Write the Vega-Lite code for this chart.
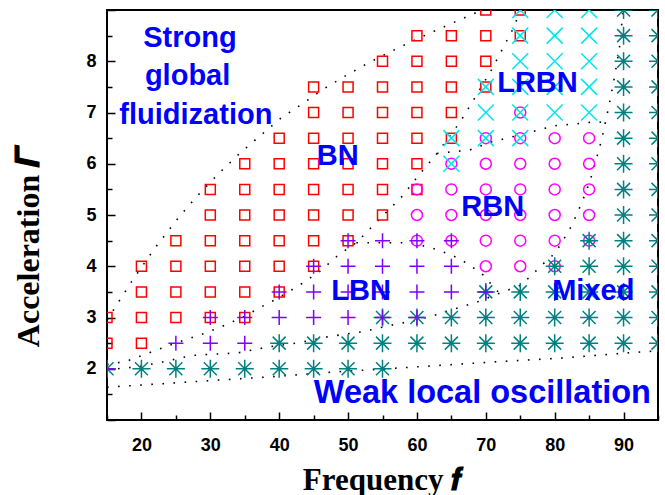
{
  "$schema": "https://vega.github.io/schema/vega-lite/v6.json",
  "width": 551,
  "height": 410,
  "autosize": {"type": "none"},
  "padding": {"left": 107, "top": 10, "right": 7, "bottom": 75},
  "background": "white",
  "config": {"view": {"stroke": "black", "strokeWidth": 2}},
  "datasets": {
    "pts": [
        {"f":15,"G":3,"t":"S"},{"f":15,"G":2.5,"t":"S"},
        {"f":20,"G":4,"t":"S"},{"f":20,"G":3.5,"t":"S"},{"f":20,"G":3,"t":"S"},{"f":20,"G":2.5,"t":"S"},
        {"f":25,"G":4.5,"t":"S"},{"f":25,"G":4,"t":"S"},{"f":25,"G":3.5,"t":"S"},{"f":25,"G":3,"t":"S"},
        {"f":30,"G":5.5,"t":"S"},{"f":30,"G":5,"t":"S"},{"f":30,"G":4.5,"t":"S"},{"f":30,"G":4,"t":"S"},{"f":30,"G":3.5,"t":"S"},{"f":30,"G":3,"t":"S"},
        {"f":35,"G":6,"t":"S"},{"f":35,"G":5.5,"t":"S"},{"f":35,"G":5,"t":"S"},{"f":35,"G":4.5,"t":"S"},{"f":35,"G":4,"t":"S"},{"f":35,"G":3.5,"t":"S"},{"f":35,"G":3,"t":"S"},
        {"f":40,"G":6.5,"t":"S"},{"f":40,"G":6,"t":"S"},{"f":40,"G":5.5,"t":"S"},{"f":40,"G":5,"t":"S"},{"f":40,"G":4.5,"t":"S"},{"f":40,"G":4,"t":"S"},{"f":40,"G":3.5,"t":"S"},
        {"f":45,"G":7.5,"t":"S"},{"f":45,"G":7,"t":"S"},{"f":45,"G":6.5,"t":"S"},{"f":45,"G":6,"t":"S"},{"f":45,"G":5.5,"t":"S"},{"f":45,"G":5,"t":"S"},{"f":45,"G":4.5,"t":"S"},{"f":45,"G":4,"t":"S"},
        {"f":50,"G":7.5,"t":"S"},{"f":50,"G":7,"t":"S"},{"f":50,"G":6.5,"t":"S"},{"f":50,"G":6,"t":"S"},{"f":50,"G":5.5,"t":"S"},{"f":50,"G":5,"t":"S"},{"f":50,"G":4.5,"t":"S"},
        {"f":55,"G":8,"t":"S"},{"f":55,"G":7.5,"t":"S"},{"f":55,"G":7,"t":"S"},{"f":55,"G":6.5,"t":"S"},{"f":55,"G":6,"t":"S"},{"f":55,"G":5.5,"t":"S"},{"f":55,"G":5,"t":"S"},
        {"f":60,"G":8.5,"t":"S"},{"f":60,"G":8,"t":"S"},{"f":60,"G":7.5,"t":"S"},{"f":60,"G":7,"t":"S"},{"f":60,"G":6.5,"t":"S"},{"f":60,"G":6,"t":"S"},{"f":60,"G":5.5,"t":"S"},
        {"f":65,"G":8.5,"t":"S"},{"f":65,"G":8,"t":"S"},{"f":65,"G":7.5,"t":"S"},{"f":65,"G":7,"t":"S"},{"f":65,"G":6.5,"t":"S"},
        {"f":70,"G":9,"t":"S"},{"f":70,"G":8.5,"t":"S"},{"f":70,"G":8,"t":"S"},{"f":70,"G":7.5,"t":"S"},
        {"f":75,"G":9,"t":"S"},{"f":75,"G":8.5,"t":"S"},
        {"f":60,"G":5.5,"t":"C"},{"f":60,"G":5,"t":"C"},{"f":60,"G":4.5,"t":"C"},
        {"f":65,"G":6,"t":"C"},{"f":65,"G":5.5,"t":"C"},{"f":65,"G":5,"t":"C"},{"f":65,"G":4.5,"t":"C"},
        {"f":70,"G":6.5,"t":"C"},{"f":70,"G":6,"t":"C"},{"f":70,"G":5.5,"t":"C"},{"f":70,"G":5,"t":"C"},{"f":70,"G":4.5,"t":"C"},{"f":70,"G":4,"t":"C"},
        {"f":75,"G":7,"t":"C"},{"f":75,"G":6.5,"t":"C"},{"f":75,"G":6,"t":"C"},{"f":75,"G":5.5,"t":"C"},{"f":75,"G":5,"t":"C"},{"f":75,"G":4.5,"t":"C"},{"f":75,"G":4,"t":"C"},
        {"f":80,"G":6.5,"t":"C"},{"f":80,"G":6,"t":"C"},{"f":80,"G":5.5,"t":"C"},{"f":80,"G":5,"t":"C"},{"f":80,"G":4.5,"t":"C"},{"f":80,"G":4,"t":"C"},
        {"f":85,"G":6.5,"t":"C"},{"f":85,"G":6,"t":"C"},{"f":85,"G":5.5,"t":"C"},{"f":85,"G":5,"t":"C"},{"f":85,"G":4.5,"t":"C"},
        {"f":15,"G":2,"t":"A"},{"f":20,"G":2,"t":"A"},{"f":25,"G":2,"t":"A"},{"f":30,"G":2,"t":"A"},{"f":35,"G":2,"t":"A"},
        {"f":40,"G":2.5,"t":"A"},{"f":40,"G":2,"t":"A"},{"f":45,"G":2.5,"t":"A"},{"f":45,"G":2,"t":"A"},{"f":50,"G":2.5,"t":"A"},{"f":50,"G":2,"t":"A"},
        {"f":55,"G":3,"t":"A"},{"f":55,"G":2.5,"t":"A"},{"f":55,"G":2,"t":"A"},
        {"f":60,"G":3,"t":"A"},{"f":60,"G":2.5,"t":"A"},{"f":65,"G":3,"t":"A"},{"f":65,"G":2.5,"t":"A"},
        {"f":70,"G":3.5,"t":"A"},{"f":70,"G":3,"t":"A"},{"f":70,"G":2.5,"t":"A"},
        {"f":75,"G":3.5,"t":"A"},{"f":75,"G":3,"t":"A"},{"f":75,"G":2.5,"t":"A"},
        {"f":80,"G":4,"t":"A"},{"f":80,"G":3.5,"t":"A"},{"f":80,"G":3,"t":"A"},{"f":80,"G":2.5,"t":"A"},
        {"f":85,"G":4.5,"t":"A"},{"f":85,"G":4,"t":"A"},{"f":85,"G":3.5,"t":"A"},{"f":85,"G":3,"t":"A"},{"f":85,"G":2.5,"t":"A"},
        {"f":90,"G":9,"t":"A"},{"f":90,"G":8.5,"t":"A"},{"f":90,"G":8,"t":"A"},{"f":90,"G":7.5,"t":"A"},{"f":90,"G":7,"t":"A"},{"f":90,"G":6.5,"t":"A"},{"f":90,"G":6,"t":"A"},{"f":90,"G":5.5,"t":"A"},{"f":90,"G":5,"t":"A"},{"f":90,"G":4.5,"t":"A"},{"f":90,"G":4,"t":"A"},{"f":90,"G":3.5,"t":"A"},{"f":90,"G":3,"t":"A"},{"f":90,"G":2.5,"t":"A"},
        {"f":95,"G":9,"t":"A"},{"f":95,"G":8.5,"t":"A"},{"f":95,"G":8,"t":"A"},{"f":95,"G":7.5,"t":"A"},{"f":95,"G":7,"t":"A"},{"f":95,"G":6.5,"t":"A"},{"f":95,"G":6,"t":"A"},{"f":95,"G":5.5,"t":"A"},{"f":95,"G":5,"t":"A"},{"f":95,"G":4.5,"t":"A"},{"f":95,"G":4,"t":"A"},{"f":95,"G":3.5,"t":"A"},{"f":95,"G":3,"t":"A"},{"f":95,"G":2.5,"t":"A"},
        {"f":65,"G":6.5,"t":"X"},{"f":65,"G":6,"t":"X"},
        {"f":70,"G":7.5,"t":"X"},{"f":70,"G":7,"t":"X"},{"f":70,"G":6.5,"t":"X"},
        {"f":75,"G":9,"t":"X"},{"f":75,"G":8.5,"t":"X"},{"f":75,"G":8,"t":"X"},{"f":75,"G":7.5,"t":"X"},{"f":75,"G":7,"t":"X"},{"f":75,"G":6.5,"t":"X"},
        {"f":80,"G":9,"t":"X"},{"f":80,"G":8.5,"t":"X"},{"f":80,"G":8,"t":"X"},{"f":80,"G":7.5,"t":"X"},{"f":80,"G":7,"t":"X"},
        {"f":85,"G":9,"t":"X"},{"f":85,"G":8.5,"t":"X"},{"f":85,"G":8,"t":"X"},{"f":85,"G":7.5,"t":"X"},{"f":85,"G":7,"t":"X"},
        {"f":15,"G":2,"t":"P"},{"f":25,"G":2.5,"t":"P"},
        {"f":30,"G":3,"t":"P"},{"f":30,"G":2.5,"t":"P"},{"f":35,"G":3,"t":"P"},{"f":35,"G":2.5,"t":"P"},
        {"f":40,"G":3.5,"t":"P"},{"f":40,"G":3,"t":"P"},
        {"f":45,"G":4,"t":"P"},{"f":45,"G":3.5,"t":"P"},{"f":45,"G":3,"t":"P"},
        {"f":50,"G":4.5,"t":"P"},{"f":50,"G":4,"t":"P"},{"f":50,"G":3.5,"t":"P"},{"f":50,"G":3,"t":"P"},
        {"f":55,"G":4.5,"t":"P"},{"f":55,"G":4,"t":"P"},{"f":55,"G":3.5,"t":"P"},{"f":55,"G":3,"t":"P"},
        {"f":60,"G":4.5,"t":"P"},{"f":60,"G":4,"t":"P"},{"f":60,"G":3.5,"t":"P"},{"f":60,"G":3,"t":"P"},
        {"f":65,"G":4.5,"t":"P"},{"f":65,"G":4,"t":"P"},{"f":65,"G":3.5,"t":"P"},
        {"f":70,"G":3.5,"t":"P"}
    ]
  },
  "encoding": {
    "x": {
      "field": "f", "type": "quantitative",
      "scale": {"domain": [15, 95], "nice": false, "zero": false},
      "axis": {
        "title": "Frequency 𝒇",
        "values": [15, 20, 25, 30, 35, 40, 45, 50, 55, 60, 65, 70, 75, 80, 85, 90, 95],
        "format": "d",
        "labelExpr": "datum.value % 10 === 0 ? datum.label : ''",
        "grid": false, "domain": false,
        "tickColor": "black", "tickWidth": 1.5,
        "tickSize": {"condition": {"test": "datum.value % 10 === 0", "value": -8}, "value": -5},
        "labelPadding": 24, "labelFlush": false, "labelOverlap": false, "labelBound": false,
        "labelFont": "Liberation Sans", "labelFontWeight": "bold", "labelFontSize": 18, "labelColor": "black",
        "titleFont": "Liberation Serif", "titleFontWeight": "bold", "titleFontSize": 31, "titleColor": "black",
        "titleX": 275, "titleY": 69, "titleBaseline": "alphabetic", "titleAlign": "center", "titleAnchor": null
      }
    },
    "y": {
      "field": "G", "type": "quantitative",
      "scale": {"domain": [1, 9], "nice": false, "zero": false},
      "axis": {
        "title": "Acceleration 𝜞",
        "values": [1, 1.5, 2, 2.5, 3, 3.5, 4, 4.5, 5, 5.5, 6, 6.5, 7, 7.5, 8, 8.5, 9],
        "format": ".0f",
        "labelExpr": "datum.value >= 2 && datum.value <= 8 && datum.value % 1 === 0 ? datum.label : ''",
        "grid": false, "domain": false,
        "tickColor": "black", "tickWidth": 1.5,
        "tickSize": {"condition": {"test": "datum.value % 1 === 0", "value": -8}, "value": -5},
        "labelPadding": 19, "labelFlush": false, "labelOverlap": false, "labelBound": false,
        "labelFont": "Liberation Sans", "labelFontWeight": "bold", "labelFontSize": 18, "labelColor": "black",
        "titleFont": "Liberation Serif", "titleFontWeight": "bold", "titleFontSize": 32, "titleColor": "black",
        "titleAngle": 270, "titleX": -68.5, "titleY": 237, "titleBaseline": "alphabetic", "titleAlign": "center", "titleAnchor": null
      }
    }
  },
  "layer": [
    {
      "data": {"values": [
        {"id":"L1","i":0,"f":15,"G":2.95},{"id":"L1","i":1,"f":18.67,"G":3.72},{"id":"L1","i":2,"f":21.87,"G":4.34},{"id":"L1","i":3,"f":25.5,"G":4.97},{"id":"L1","i":4,"f":28.1,"G":5.37},{"id":"L1","i":5,"f":31.07,"G":5.79},{"id":"L1","i":6,"f":34.17,"G":6.19},{"id":"L1","i":7,"f":37.26,"G":6.55},{"id":"L1","i":8,"f":40.26,"G":6.89},{"id":"L1","i":9,"f":43.36,"G":7.17},{"id":"L1","i":10,"f":46.46,"G":7.46},{"id":"L1","i":11,"f":49.56,"G":7.71},{"id":"L1","i":12,"f":52.7,"G":7.95},{"id":"L1","i":13,"f":55.76,"G":8.16},{"id":"L1","i":14,"f":58.85,"G":8.36},{"id":"L1","i":15,"f":61.9,"G":8.55},{"id":"L1","i":16,"f":65.05,"G":8.74},{"id":"L1","i":17,"f":68.1,"G":8.92},{"id":"L1","i":18,"f":69.5,"G":9.0},
        {"id":"L2","i":0,"f":15,"G":2.08},{"id":"L2","i":1,"f":17.9,"G":2.15},{"id":"L2","i":2,"f":21.1,"G":2.31},{"id":"L2","i":3,"f":25.6,"G":2.53},{"id":"L2","i":4,"f":28.75,"G":2.67},{"id":"L2","i":5,"f":31.8,"G":2.83},{"id":"L2","i":6,"f":34.9,"G":3.02},{"id":"L2","i":7,"f":38.0,"G":3.25},{"id":"L2","i":8,"f":39.6,"G":3.36},{"id":"L2","i":9,"f":42.7,"G":3.61},{"id":"L2","i":10,"f":45.8,"G":3.89},{"id":"L2","i":11,"f":48.7,"G":4.23},{"id":"L2","i":12,"f":51.2,"G":4.46},{"id":"L2","i":13,"f":53.4,"G":4.76},{"id":"L2","i":14,"f":56.5,"G":5.18},{"id":"L2","i":15,"f":57.9,"G":5.37},{"id":"L2","i":16,"f":60.4,"G":5.8},{"id":"L2","i":17,"f":62.9,"G":6.2},{"id":"L2","i":18,"f":66.3,"G":6.82},{"id":"L2","i":19,"f":68.2,"G":7.24},{"id":"L2","i":20,"f":70.9,"G":7.85},{"id":"L2","i":21,"f":72.5,"G":8.26},{"id":"L2","i":22,"f":74.1,"G":8.67},{"id":"L2","i":23,"f":75,"G":9},
        {"id":"L3","i":0,"f":15,"G":1.98},{"id":"L3","i":1,"f":19.5,"G":2.04},{"id":"L3","i":2,"f":22.7,"G":2.12},{"id":"L3","i":3,"f":27.3,"G":2.26},{"id":"L3","i":4,"f":34,"G":2.31},{"id":"L3","i":5,"f":38.6,"G":2.43},{"id":"L3","i":6,"f":42.5,"G":2.5},{"id":"L3","i":7,"f":47.3,"G":2.63},{"id":"L3","i":8,"f":52,"G":2.72},{"id":"L3","i":9,"f":56.3,"G":2.85},{"id":"L3","i":10,"f":60,"G":2.95},{"id":"L3","i":11,"f":62.7,"G":3.05},{"id":"L3","i":12,"f":65.8,"G":3.18},{"id":"L3","i":13,"f":68.7,"G":3.3},{"id":"L3","i":14,"f":71.9,"G":3.47},{"id":"L3","i":15,"f":75.1,"G":3.63},{"id":"L3","i":16,"f":76.7,"G":3.83},{"id":"L3","i":17,"f":78.1,"G":4.02},{"id":"L3","i":18,"f":79.6,"G":4.2},{"id":"L3","i":19,"f":80.8,"G":4.41},{"id":"L3","i":20,"f":82.5,"G":4.8},{"id":"L3","i":21,"f":84.0,"G":5.26},{"id":"L3","i":22,"f":85.1,"G":5.65},{"id":"L3","i":23,"f":86.0,"G":6.07},{"id":"L3","i":24,"f":86.8,"G":6.46},{"id":"L3","i":25,"f":87.8,"G":7.08},{"id":"L3","i":26,"f":88.7,"G":7.7},{"id":"L3","i":27,"f":89.5,"G":8.35},{"id":"L3","i":28,"f":89.9,"G":9},
        {"id":"L4","i":0,"f":62.9,"G":6.2},{"id":"L4","i":1,"f":67.7,"G":6.27},{"id":"L4","i":2,"f":70.9,"G":6.43},{"id":"L4","i":3,"f":74.0,"G":6.53},{"id":"L4","i":4,"f":76.9,"G":6.63},{"id":"L4","i":5,"f":79.9,"G":6.74},{"id":"L4","i":6,"f":83.2,"G":6.78},{"id":"L4","i":7,"f":86.1,"G":6.82},{"id":"L4","i":8,"f":87.3,"G":6.8},
        {"id":"L5","i":0,"f":51.2,"G":4.46},{"id":"L5","i":1,"f":55.8,"G":4.46},{"id":"L5","i":2,"f":58.9,"G":4.46},{"id":"L5","i":3,"f":61.9,"G":4.37},{"id":"L5","i":4,"f":65.0,"G":4.22},{"id":"L5","i":5,"f":66.5,"G":4.12},{"id":"L5","i":6,"f":68.0,"G":3.99},{"id":"L5","i":7,"f":69.6,"G":3.83},{"id":"L5","i":8,"f":70.9,"G":3.63},{"id":"L5","i":9,"f":72.0,"G":3.47},
        {"id":"L6","i":0,"f":15,"G":1.64},{"id":"L6","i":1,"f":39.6,"G":1.85},{"id":"L6","i":2,"f":47.2,"G":1.93},{"id":"L6","i":3,"f":58,"G":2.02},{"id":"L6","i":4,"f":62.6,"G":2.06},{"id":"L6","i":5,"f":72.0,"G":2.14},{"id":"L6","i":6,"f":81.2,"G":2.21},{"id":"L6","i":7,"f":90.6,"G":2.31},{"id":"L6","i":8,"f":95,"G":2.35}
      ]},
      "mark": {"type": "line", "color": "black", "strokeWidth": 1.6, "strokeDash": [1.6, 9.5], "strokeCap": "butt", "clip": true},
      "encoding": {
        "detail": {"field": "id", "type": "nominal"},
        "order": {"field": "i", "type": "quantitative"}
      }
    },
    {
      "data": {"name": "pts"},
      "transform": [{"filter": "datum.t === 'S'"}],
      "mark": {"type": "point", "shape": "square", "size": 100, "filled": false, "color": "#ff0000", "strokeWidth": 1.5, "opacity": 1, "clip": true}
    },
    {
      "data": {"name": "pts"},
      "transform": [{"filter": "datum.t === 'C'"}],
      "mark": {"type": "point", "shape": "circle", "size": 121, "filled": false, "color": "#ff00ff", "strokeWidth": 1.5, "opacity": 1, "clip": true}
    },
    {
      "data": {"name": "pts"},
      "transform": [{"filter": "datum.t === 'A'"}],
      "mark": {"type": "point", "shape": "M-1,0L1,0M0,-1L0,1M-0.72,-0.72L0.72,0.72M-0.72,0.72L0.72,-0.72", "size": 324, "filled": false, "color": "#008080", "strokeWidth": 1.5, "opacity": 1, "clip": true}
    },
    {
      "data": {"name": "pts"},
      "transform": [{"filter": "datum.t === 'X'"}],
      "mark": {"type": "point", "shape": "M-1,-1L1,1M-1,1L1,-1", "size": 256, "filled": false, "color": "#00e5ee", "strokeWidth": 1.5, "opacity": 1, "clip": true}
    },
    {
      "data": {"name": "pts"},
      "transform": [{"filter": "datum.t === 'P'"}],
      "mark": {"type": "point", "shape": "M-1,0L1,0M0,-1L0,1", "size": 225, "filled": false, "color": "#8000ff", "strokeWidth": 1.5, "opacity": 1, "clip": true}
    },
    {
      "data": {"values": [
        {"label": "Strong", "f": 27.05, "G": 8.46},
        {"label": "global", "f": 26.7, "G": 7.72},
        {"label": "fluidization", "f": 27.9, "G": 6.95},
        {"label": "BN", "f": 48.5, "G": 6.15},
        {"label": "LRBN", "f": 77.5, "G": 7.57},
        {"label": "RBN", "f": 71.0, "G": 5.16},
        {"label": "LBN", "f": 51.9, "G": 3.52},
        {"label": "Mixed", "f": 85.6, "G": 3.52}
      ]},
      "mark": {"type": "text", "font": "Liberation Sans", "fontWeight": "bold", "fontSize": 29, "color": "#0000ff", "align": "center", "baseline": "middle"},
      "encoding": {"text": {"field": "label", "type": "nominal"}}
    },
    {
      "data": {"values": [
        {"label": "Weak local oscillation", "f": 69.5, "G": 1.52}
      ]},
      "mark": {"type": "text", "font": "Liberation Sans", "fontWeight": "bold", "fontSize": 32.5, "color": "#0000ff", "align": "center", "baseline": "middle"},
      "encoding": {"text": {"field": "label", "type": "nominal"}}
    }
  ]
}
